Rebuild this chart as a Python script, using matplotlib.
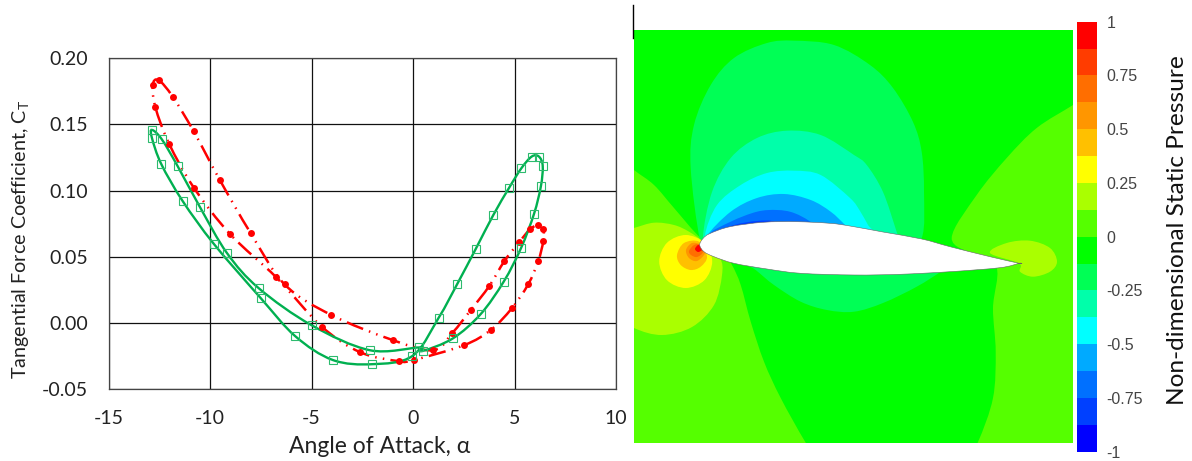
# -*- coding: utf-8 -*-
"""
Tangential force coefficient loops next to the static pressure contours
around the pitching airfoil.
"""

import numpy as np
import matplotlib
matplotlib.use('Agg')
import matplotlib.pyplot as plt
from matplotlib.path import Path
from matplotlib.patches import PathPatch
from matplotlib.lines import Line2D
from matplotlib.colors import ListedColormap, BoundaryNorm
from matplotlib.cm import ScalarMappable

plt.rcParams['font.family'] = ['Lato', 'DejaVu Sans']
plt.rcParams['mathtext.fontset'] = 'custom'
plt.rcParams['mathtext.rm'] = 'Lato'
plt.rcParams['axes.unicode_minus'] = False

# loops, in the order they run round
green_alpha = [-12.86, -12.86, -12.40, -11.35, -9.80, -7.50, -5.80, -3.96, -2.00, -0.03, 1.26, 2.18, 3.09, 3.96,
               4.73, 5.34, 5.85, 6.20, 6.39, 6.30, 5.96, 5.32, 4.47, 3.33, 1.96, 0.48, 0.31, -2.12, -5.00, -7.60,
               -9.16, -10.50, -11.60, -12.38]
green_ct = [0.1458, 0.1397, 0.1200, 0.0922, 0.0596, 0.0189, -0.0098, -0.0277, -0.0309, -0.0247, 0.0040, 0.0296,
            0.0560, 0.0817, 0.1020, 0.1169, 0.1257, 0.1257, 0.1186, 0.1033, 0.0824, 0.0566, 0.0314, 0.0068,
            -0.0115, -0.0209, -0.0183, -0.0204, -0.0015, 0.0264, 0.0528, 0.0877, 0.1186, 0.1388]

red_alpha = [-12.53, -11.84, -10.80, -9.52, -8.00, -6.32, -4.04, -0.985, 1.00, 1.94, 2.84, 3.76, 4.50, 5.22, 5.76,
             6.17, 6.42, 6.42, 6.17, 5.67, 4.86, 3.83, 2.51, 0.05, -0.67, -2.60, -4.50, -6.73, -9.00, -10.80,
             -12.02, -12.69, -12.82]
red_ct = [0.1833, 0.1709, 0.1446, 0.1081, 0.0680, 0.0292, 0.0063, -0.0128, -0.0204, -0.0073, 0.0098, 0.0281,
          0.0468, 0.0609, 0.0707, 0.0741, 0.0707, 0.0621, 0.0468, 0.0292, 0.0111, -0.0051, -0.0166, -0.0277,
          -0.0287, -0.0219, -0.0025, 0.0345, 0.0670, 0.1023, 0.1355, 0.1629, 0.1797]

xticks = [-15, -10, -5, 0, 5, 10]
yticks = [-0.05, 0.00, 0.05, 0.10, 0.15, 0.20]

# colour bands of the contour plot, lowest first
band_levels = np.linspace(-1, 1, 17)
band_colors = ['#0000ff', '#0040ff', '#0070ff', '#00aaff', '#00ffff', '#00ffaa', '#00ff55', '#00ff00',
               '#55ff00', '#aaff00', '#ffff00', '#ffc000', '#ff9600', '#ff6e00', '#ff3c00', '#ff0000']
bar_ticks = [-1, -0.75, -0.5, -0.25, 0, 0.25, 0.5, 0.75, 1]
bar_labels = ['-1', '-0.75', '-0.5', '-0.25', '0', '0.25', '0.5', '0.75', '1']

# contour outlines, in picture pixels
up1 = [(700, 240), (690.7, 168), (694, 125), (710.7, 85), (734, 58), (767, 43), (794, 40.7), (834, 45), (870, 65),
       (893, 88), (913, 122), (921.7, 152), (924, 192), (921.7, 238), (900, 252), (800, 250), (710, 250)]
up2 = [(703, 237), (712, 192), (730.7, 158), (757, 138), (787, 130.7), (820.7, 135), (854, 155), (866.7, 165),
       (883, 192), (896.7, 232), (905, 258), (800, 250), (710, 250)]
up3 = [(705, 235), (717, 205), (740.7, 185), (767, 173), (794, 170.7), (820.7, 175), (850, 198), (860, 211),
       (868, 225), (880, 245), (800, 250), (710, 250)]
up4 = [(707, 236), (730.7, 211.7), (757, 198), (784, 194), (810.7, 200), (830.7, 211.7), (846, 226), (860, 242),
       (760, 250), (712, 245)]
up5 = [(710, 235), (730.7, 221.7), (757, 211.7), (777, 210), (794, 213), (812, 223), (825, 238), (740, 245)]
up6 = [(712, 234), (734, 225), (757, 221), (775, 222), (785, 235), (725, 242)]
low1 = [(755.7, 270), (774, 285), (800.7, 301.7), (827, 310), (854, 311.7), (883, 303), (916.7, 286.7), (943, 270),
        (960, 255), (800, 255), (740, 258)]
left1 = [(610, 150), (634, 170), (654, 185), (674, 208), (700.7, 238), (722, 250), (732, 265), (740.7, 285),
         (750.7, 321.7), (764, 361.7), (780.7, 398), (805.7, 442.7), (830, 480), (700, 500), (590, 480), (590, 300)]
left2 = [(610, 235), (634, 228), (654, 222.7), (674, 225), (689, 231.7), (705, 243), (720, 258), (722, 275),
         (714, 305), (692, 327), (662, 335), (634, 328), (610, 312), (590, 275)]
core1 = [(685.7, 235), (704.4, 242.8), (712.2, 261.5), (704.4, 280.2), (685.7, 288), (667, 280.2), (659.2, 261.5),
         (667, 242.8)]
core2 = [(677, 255), (684, 243), (699, 241.7), (707, 256.7), (700.7, 266.7), (690.7, 270), (680.7, 265)]
core3 = [(686, 250), (692, 243), (700.7, 245), (705, 253), (697, 261), (689, 258)]
core4 = [(689, 251), (694, 245), (700, 245), (703, 252), (697, 257), (691, 255)]
core5 = [(695, 249), (698, 245), (702, 246), (702, 250), (698, 252)]
right1 = [(1095, 90), (1073, 105), (1036.7, 128), (1006.7, 158), (976.7, 195), (951.7, 238), (975, 255),
          (996.7, 268), (993, 308), (995.7, 351.7), (993, 398), (977.7, 442.7), (960, 475), (1050, 490),
          (1110, 450), (1120, 250)]
wake1 = [(1019, 263.3), (990, 253), (1006.7, 243), (1030, 240.7), (1050, 248), (1057, 261.7), (1050, 271.7),
         (1033, 276.7), (1020, 271.7)]
airfoil = [(699.7, 245), (703, 238.5), (710, 233.5), (730, 226.7), (763, 222.3), (796.7, 221.7), (830, 223.3),
           (850, 226), (883, 232), (921.7, 239), (950, 246.7), (990, 256.7), (1019, 263.3), (1019, 263.3), (1000, 267.7),
           (950, 271.7), (900, 274.3), (854, 275), (800.7, 273.3), (767, 269), (734, 263.3), (714, 256.7),
           (704, 251.7)]

contour_regions = [(left1, '#55ff00'), (right1, '#55ff00'), (up1, '#00ff55'), (low1, '#00ff55'), (up2, '#00ffaa'),
                   (up3, '#00ffff'), (up4, '#00aaff'), (up5, '#0070ff'), (up6, '#0040ff'), (left2, '#aaff00'),
                   (wake1, '#aaff00'), (core1, '#ffff00'), (core2, '#ffc000'), (core3, '#ff9600'),
                   (core4, '#ff6e00'), (core5, '#ff0000')]


def axesAtPixels (fig, left, top, right, bottom):
    W, H = fig.get_size_inches() * fig.dpi
    return fig.add_axes([left/W, 1 - bottom/H, (right-left)/W, (bottom-top)/H])


def smoothLoop (x, y):
    # closed Catmull-Rom curve through the points
    pts = np.c_[x, y]
    n = len(pts)
    verts = [pts[0]]
    codes = [Path.MOVETO]
    for i in range(n):
        p0, p1, p2, p3 = pts[i-1], pts[i], pts[(i+1) % n], pts[(i+2) % n]
        verts += [p1 + (p2-p0)/6, p2 - (p3-p1)/6, p2]
        codes += [Path.CURVE4, Path.CURVE4, Path.CURVE4]
    return Path(verts, codes)


fig = plt.figure(figsize=(11.92, 4.61), dpi=100)

#----------------------------------------------------------------------
#   Left panel, force coefficient loops
ax = axesAtPixels(fig, 108.5, 58, 616, 389.5)
ax.set_xlim([-15, 10])
ax.set_ylim([-0.05, 0.20])
ax.set_xticks(xticks)
ax.set_yticks(yticks)
ax.set_yticklabels(['%.2f' % v for v in yticks])
ax.tick_params(length=0, labelsize=14, pad=15, labelcolor='#222222')
ax.grid(True, color='#111111', linewidth=0.9)
ax.set_axisbelow(True)
for s in ax.spines.values():
    s.set_color('#444444')
    s.set_linewidth(0.9)

ax.add_patch(PathPatch(smoothLoop(red_alpha, red_ct), fill=False, edgecolor='#ff0000', linewidth=1.8,
                       linestyle=(0, (7, 2.5, 0.6, 2.5, 0.6, 2.5))))
ax.plot(red_alpha, red_ct, 'o', color='#ff0000', markersize=5, markeredgewidth=0, clip_on=False)
ax.add_patch(PathPatch(smoothLoop(green_alpha, green_ct), fill=False, edgecolor='#00b050', linewidth=1.7))
ax.plot(green_alpha, green_ct, 's', markerfacecolor='none', markeredgecolor='#2dbb6e', markersize=5.2,
        markeredgewidth=0.8)
ax.set_xlabel('Angle of Attack, α', fontsize=16.5, color='#222222', va='center')
ax.xaxis.set_label_coords(0.535, -0.173)
ax.set_ylabel(r'Tangential Force Coefficient, $\mathregular{C_T}$', fontsize=14.2, color='#222222', va='center')
ax.yaxis.set_label_coords(-0.174, 0.454)

#----------------------------------------------------------------------
#   Right panel, pressure contours
pax = axesAtPixels(fig, 634, 30, 1073, 443)
pax.set_xlim([634, 1073])
pax.set_ylim([443, 30])
pax.axis('off')
pax.add_patch(plt.Rectangle((634, 30), 439, 413, facecolor='#00ff00', edgecolor='none'))
for region, color in contour_regions:
    rx, ry = zip(*region)
    pax.add_patch(PathPatch(smoothLoop(rx, ry), facecolor=color, edgecolor='none'))
fx, fy = zip(*airfoil)
pax.add_patch(PathPatch(smoothLoop(fx, fy), facecolor='white', edgecolor='#666666', linewidth=0.4))

cax = axesAtPixels(fig, 1077, 21.7, 1097, 451.7)
sm = ScalarMappable(norm=BoundaryNorm(band_levels, len(band_colors)), cmap=ListedColormap(band_colors))
cbar = fig.colorbar(sm, cax=cax, spacing='proportional', ticks=bar_ticks)
cbar.ax.set_yticklabels(bar_labels, family=['Liberation Sans'], fontsize=11.5, color='#444444')
cbar.ax.tick_params(length=0, pad=7)
cbar.outline.set_visible(False)
cbar.ax.minorticks_off()

fig.text(1177/1192, 1 - 230/461, 'Non-dimensional Static Pressure', rotation=90, ha='center', va='center',
         fontsize=17.6, color='#111111')
# stray line at the top of the picture
fig.add_artist(Line2D([633/1192, 633/1192], [1 - 5/461, 1 - 38/461], color='black', linewidth=1))

fig.savefig('out.png', dpi=100)
